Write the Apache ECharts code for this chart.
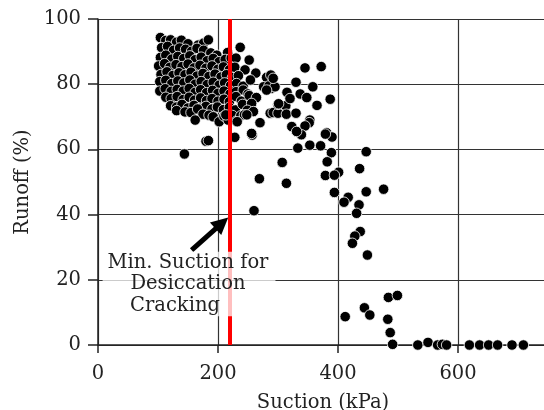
<!DOCTYPE html>
<html>
<head>
<meta charset="utf-8">
<script src="https://cdn.jsdelivr.net/npm/echarts@6/dist/echarts.min.js"></script>
<style>
  html, body { margin: 0; padding: 0; background: #fff; }
  #chart { width: 544px; height: 410px; }
</style>
</head>
<body>
<div id="chart"></div>
<script>
  // suction (kPa), runoff (%)
  const denseCluster = [
    [104, 94.3], [113, 93.4], [121, 93.6], [131, 92.9], [139, 93.5], [150, 92.4], [167, 92.0], [176, 92.6], [184, 93.6],
    [106, 91.2], [116, 91.6], [126, 90.4], [136, 91.1], [146, 90.7], [156, 90.1], [165, 91.0], [176, 90.4], [188, 89.6], [198, 88.9], [216, 89.7], [237, 91.3],
    [104, 88.2], [113, 88.9], [123, 87.7], [133, 88.5], [143, 87.9], [153, 88.7], [162, 87.5], [172, 88.3], [182, 87.2], [192, 87.9], [202, 86.9], [212, 87.6], [222, 88.0], [230, 88.0], [252, 87.4],
    [101, 85.6], [111, 86.3], [120, 85.2], [130, 86.0], [140, 85.4], [150, 86.2], [160, 85.0], [170, 85.8], [180, 84.9], [190, 85.6], [200, 84.6], [209, 85.3], [219, 84.4], [228, 85.2], [245, 84.4],
    [105, 83.0], [115, 83.8], [125, 82.7], [135, 83.5], [145, 82.9], [155, 83.7], [165, 82.5], [175, 83.3], [185, 82.4], [195, 83.1], [205, 82.2], [214, 82.9], [224, 82.0], [234, 82.6], [263, 83.4],
    [103, 80.8], [113, 81.2], [123, 80.2], [133, 81.0], [143, 80.4], [153, 81.3], [162, 80.0], [172, 80.8], [182, 79.9], [192, 80.6], [202, 79.7], [211, 80.4], [221, 79.6], [231, 80.2], [242, 79.4], [254, 81.3], [281, 82.1],
    [103, 77.9], [112, 78.6], [122, 77.8], [132, 78.4], [142, 77.9], [152, 78.7], [162, 77.5], [171, 78.3], [181, 77.4], [191, 78.1], [200, 77.2], [210, 77.9], [220, 77.0], [230, 77.7], [242, 78.2], [250, 77.0],
    [276, 79.2], [288, 78.7], [285, 79.5], [295, 79.2], [281, 78.2], [288, 82.8], [292, 81.8],
    [113, 76.0], [122, 75.6], [132, 76.2], [142, 75.3], [152, 76.0], [161, 75.1], [171, 75.8], [181, 75.0], [190, 75.6], [200, 74.8], [210, 75.4], [219, 74.6], [230, 76.2], [239, 74.8], [252, 76.5], [264, 75.9],
    [121, 73.4], [131, 73.0], [140, 73.8], [150, 72.7], [160, 73.5], [170, 72.6], [180, 73.2], [190, 72.4], [199, 73.0], [209, 72.2], [219, 72.9], [229, 72.1], [241, 73.8], [256, 74.1], [249, 72.0],
    [131, 71.9], [145, 71.5], [155, 71.3], [166, 72.4], [175, 70.8], [185, 70.5], [192, 70.0], [202, 68.5], [210, 70.2], [217, 69.0], [224, 70.4], [231, 68.7], [238, 70.3], [244, 70.6], [259, 71.6],
    [162, 69.0], [213, 70.6], [248, 70.6], [232, 68.5]
  ];
  const clusterOutliers = [
    [144, 58.6], [180, 62.5], [184, 62.7], [228, 63.7], [257, 64.4], [256, 64.9], [270, 68.2],
    [287, 71.1], [292, 71.3], [300, 71.1], [300, 73.8], [313, 73.4], [260, 41.2], [269, 51.0]
  ];
  const transitionPoints = [
    [345, 85.0], [372, 85.4], [330, 80.6], [358, 79.2], [315, 77.5], [337, 77.0], [348, 75.9], [320, 75.6], [387, 75.4],
    [301, 74.0], [365, 73.5], [314, 70.8], [330, 71.1], [353, 69.0], [352, 68.2], [345, 67.2], [323, 67.0], [339, 64.5],
    [331, 65.5], [381, 65.1], [390, 63.8], [379, 64.7], [333, 60.4], [353, 61.3], [371, 61.1], [389, 59.0], [447, 59.3],
    [307, 56.0], [382, 56.2], [436, 54.1], [401, 53.0], [379, 52.0], [394, 52.1], [314, 49.6], [394, 46.8], [447, 47.0],
    [476, 47.8], [417, 45.3], [410, 43.8], [435, 43.0], [431, 40.4], [437, 34.8], [428, 33.4], [424, 31.2], [449, 27.6]
  ];
  const lowRunoff = [
    [484, 14.6], [499, 15.2], [444, 11.4], [412, 8.7], [453, 9.2], [483, 7.9], [487, 3.8], [491, 0.2],
    [533, 0], [550, 0.8], [566, 0], [574, 0.2], [581, 0], [619, 0], [636, 0], [651, 0], [666, 0], [690, 0], [709, 0]
  ];
  const crackingSuction = 219;
  const arrowFrom = [156, 29.1];
  const arrowTo = [206.5, 37.4];
  const noteAt = [151.7, 18.7];
  const noteLines = ['Min. Suction for', 'Desiccation', 'Cracking'];

  const font = 'DejaVu Serif';
  const ink = '#222';
  const allPoints = denseCluster.concat(clusterOutliers, transitionPoints, lowRunoff);

  const chart = echarts.init(document.getElementById('chart'));
  chart.setOption({
    animation: false,
    grid: { left: 98, right: -4, top: 19, bottom: 65, containLabel: false, outerBoundsMode: 'none' },
    xAxis: {
      type: 'value', min: 0, max: 750, interval: 200,
      name: 'Suction (kPa)', nameLocation: 'middle', nameGap: 48,
      nameTextStyle: { fontFamily: font, fontSize: 19.5, color: ink },
      axisLine: { show: true, lineStyle: { color: ink, width: 1.5 } },
      axisTick: { show: true, length: 8, lineStyle: { color: ink, width: 1.5 } },
      axisLabel: { fontFamily: font, fontSize: 19.5, color: ink, margin: 19, formatter: (v) => (v % 200 === 0 ? v : '') },
      splitLine: { show: true, lineStyle: { color: '#333', width: 1.2 } }
    },
    yAxis: {
      type: 'value', min: 0, max: 100, interval: 20,
      name: 'Runoff (%)', nameLocation: 'middle', nameGap: 59,
      nameTextStyle: { fontFamily: font, fontSize: 19.5, color: ink },
      axisLine: { show: true, lineStyle: { color: ink, width: 1.5 } },
      axisTick: { show: true, length: 10, lineStyle: { color: ink, width: 1.5 } },
      axisLabel: { fontFamily: font, fontSize: 19.5, color: ink, margin: 17 },
      splitLine: { show: true, lineStyle: { color: '#333', width: 1.2 } }
    },
    series: [
      {
        type: 'scatter', z: 2, clip: true, symbolSize: 10.5,
        itemStyle: { color: '#000', opacity: 1, borderColor: '#fff', borderWidth: 0.8 },
        data: allPoints
      },
      {
        type: 'scatter', z: 3, data: [],
        markLine: {
          silent: true, symbol: ['none', 'none'], label: { show: false },
          lineStyle: { color: '#ff0000', width: 4, type: 'solid' },
          data: [{ xAxis: crackingSuction }]
        }
      },
      {
        type: 'scatter', z: 4, data: [],
        markLine: {
          silent: true, symbol: ['none', 'triangle'], symbolSize: 17, label: { show: false },
          lineStyle: { color: '#000', width: 5, type: 'solid' },
          itemStyle: { color: '#000' },
          data: [[{ coord: arrowFrom }, { coord: arrowTo }]]
        }
      },
      {
        type: 'scatter', z: 5, data: [],
        markPoint: {
          silent: true, symbol: 'circle', symbolSize: 1,
          itemStyle: { color: 'rgba(0,0,0,0)' },
          data: [{ coord: noteAt }],
          label: {
            show: true, position: 'inside', align: 'center',
            formatter: '{a|' + noteLines[0] + '}\n{a|' + noteLines[1] + '}\n{c|' + noteLines[2] + '}',
            backgroundColor: 'rgba(255,255,255,0.75)', padding: [0, 7, 0, 5],
            rich: {
              a: { fontFamily: font, fontSize: 19.5, lineHeight: 21.5, color: ink, align: 'center' },
              c: { fontFamily: font, fontSize: 19.5, lineHeight: 21.5, color: ink, align: 'center', padding: [0, 26, 0, 0] }
            }
          }
        }
      }
    ]
  });
</script>
</body>
</html>
